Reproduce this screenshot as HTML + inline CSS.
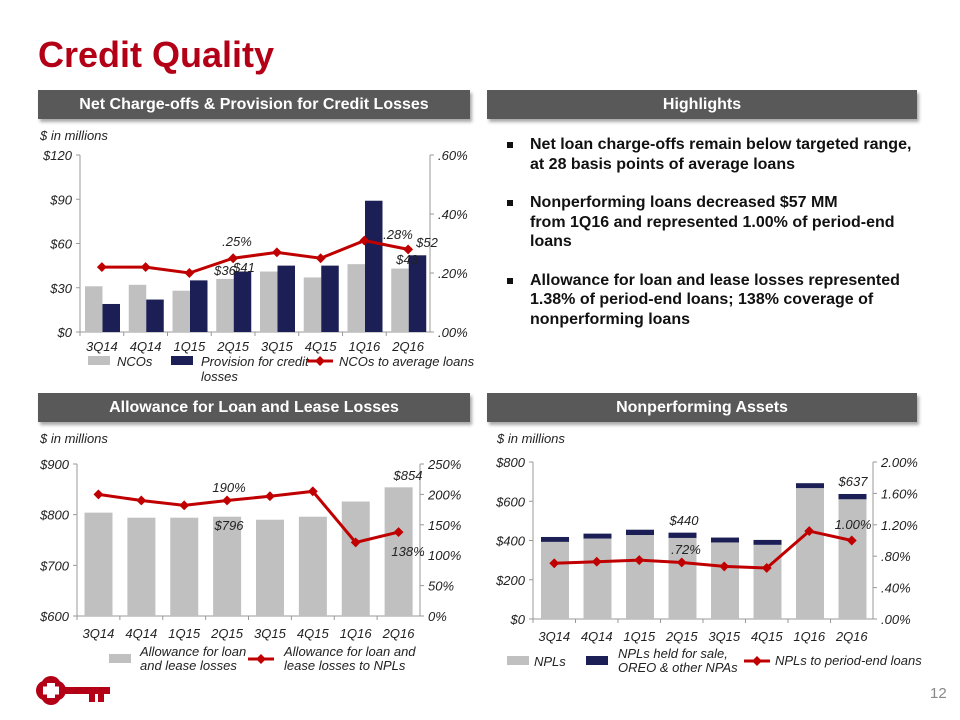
<!DOCTYPE html>
<html><head><meta charset="utf-8"><style>
body{margin:0;background:#fff;font-family:"Liberation Sans",Arial,sans-serif}
#page{position:relative;width:960px;height:720px;overflow:hidden;background:#fff}
.hdr{position:absolute;height:29px;background:#595959;color:#fff;font-weight:bold;font-size:16px;text-align:center;line-height:29px;box-shadow:2px 3px 3px #aaa}
.t{position:absolute}
ul{position:absolute;left:505px;top:135px;width:420px;margin:0;padding:0;list-style:none;font-weight:bold;font-size:16px;color:#111;line-height:19.5px}
li{position:relative;padding-left:25px;margin-bottom:19px}
li:before{content:"";position:absolute;left:2px;top:7px;width:6px;height:6px;background:#111}
svg text{font-family:"Liberation Sans",Arial,sans-serif;font-style:italic;font-size:13px;fill:#222}
</style></head><body>
<div id="page">
<div class="t" style="left:38px;top:34px;font-size:36px;font-weight:bold;color:#b30016">Credit Quality</div>
<div class="hdr" style="left:38px;top:90px;width:432px">Net Charge-offs &amp; Provision for Credit Losses</div>
<div class="hdr" style="left:487px;top:90px;width:430px">Highlights</div>
<div class="hdr" style="left:38px;top:393px;width:432px">Allowance for Loan and Lease Losses</div>
<div class="hdr" style="left:487px;top:393px;width:430px">Nonperforming Assets</div>
<ul>
<li>Net loan charge-offs remain below targeted range, at 28 basis points of average loans</li>
<li>Nonperforming loans decreased $57 MM<br>from 1Q16 and represented 1.00% of period-end loans</li>
<li>Allowance for loan and lease losses represented 1.38% of period-end loans; 138% coverage of nonperforming loans</li>
</ul>
<svg id="svg" width="960" height="720" style="position:absolute;left:0;top:0">
<g fill="#b30016">
<circle cx="51" cy="686" r="10"/><circle cx="51" cy="695" r="10"/><circle cx="46" cy="690.5" r="10"/><circle cx="56" cy="690.5" r="10"/>
<rect x="58" y="687" width="52" height="7"/><rect x="89" y="692" width="6" height="10"/><rect x="98" y="692" width="6" height="10"/>
<rect x="47" y="683" width="8" height="15" fill="#fff"/><rect x="43" y="686.5" width="16" height="8" fill="#fff"/>
</g>
<text x="930" y="698" style="font-style:normal;font-size:15px;fill:#888">12</text>
</svg>
</div>
<script>
const cats=["3Q14","4Q14","1Q15","2Q15","3Q15","4Q15","1Q16","2Q16"];
const ncoVals=[31,32,28,36,41,37,46,43];
const provVals=[19,22,35,41,45,45,89,52];
const ncoRatio=[0.22,0.22,0.20,0.25,0.27,0.25,0.31,0.28];
const alllVals=[804,794,794,796,790,796,826,854];
const alllRatio=[200,190,182,190,197,205,121,138];
const nplVals=[393,410,428,413,390,378,667,610];
const npaOther=[25,25,27,27,25,25,25,27];
const nplRatio=[0.71,0.73,0.75,0.72,0.67,0.65,1.12,1.00];
const t1L=["$0","$30","$60","$90","$120"],t1R=[".00%",".20%",".40%",".60%"];
const t2L=["$600","$700","$800","$900"],t2R=["0%","50%","100%","150%","200%","250%"];
const t3L=["$0","$200","$400","$600","$800"],t3R=[".00%",".40%",".80%","1.20%","1.60%","2.00%"];
const svg=document.getElementById('svg');const NS="http://www.w3.org/2000/svg";
function mk(tag,a,txt){const e=document.createElementNS(NS,tag);for(const k in a)e.setAttribute(k,a[k]);if(txt!=null)e.textContent=txt;svg.appendChild(e);return e;}
function lin(d0,d1,r0,r1){return v=>r0+(v-d0)/(d1-d0)*(r1-r0);}
function axes(c){
 let e=mk('line',{x1:c.x0,y1:c.yt,x2:c.x0,y2:c.yb,stroke:'#999'});
 
 e=mk('line',{x1:c.x1,y1:c.yt,x2:c.x1,y2:c.yb,stroke:'#999'});
 
 e=mk('line',{x1:c.x0,y1:c.yb,x2:c.x1,y2:c.yb,stroke:'#999'});
 
 c.tl.forEach((t,i)=>{const y=c.yb-(c.yb-c.yt)*i/(c.tl.length-1);
  mk('line',{x1:c.x0-4,y1:y,x2:c.x0,y2:y,stroke:'#999'});
  const tx=mk('text',{x:c.x0-8,y:y+5,'text-anchor':'end'},t);
  });
 c.tr.forEach((t,i)=>{const y=c.yb-(c.yb-c.yt)*i/(c.tr.length-1);
  mk('line',{x1:c.x1,y1:y,x2:c.x1+4,y2:y,stroke:'#999'});
  const tx=mk('text',{x:c.x1+8,y:y+5},t);
  });
 const gw=(c.x1-c.x0)/cats.length;
 cats.forEach((k,i)=>{mk('line',{x1:c.x0+gw*i,y1:c.yb,x2:c.x0+gw*i,y2:c.yb+4,stroke:'#999'});
  const tx=mk('text',{x:c.x0+gw*(i+.5),y:c.yb+c.lo,'text-anchor':'middle'},k);
  });
 return gw;
}
function line(c,gw,vals,ys){const pts=vals.map((v,i)=>[c.x0+gw*(i+.5),ys(v)]);
 const p=mk('polyline',{points:pts.map(p=>p.join(',')).join(' '),fill:'none',stroke:'#c00000','stroke-width':3});
 
 pts.forEach(q=>{const d=mk('rect',{x:q[0]-3.5,y:q[1]-3.5,width:7,height:7,fill:'#c00000',transform:`rotate(45 ${q[0]} ${q[1]})`});
  });}
function lab(x,y,t,a){const e=mk('text',{x:x,y:y,'text-anchor':a||'middle'},t);}
// chart 1
let c1={id:'nco',x0:80,x1:430,yt:155,yb:332,tl:t1L,tr:t1R,lo:19};
lab(40,140,"$ in millions","start");
let gw=axes(c1);let y1=lin(0,120,332,155),y1r=lin(0,0.6,332,155);
cats.forEach((k,i)=>{const gx=c1.x0+gw*i;
 let b=mk('rect',{x:gx+5,y:y1(ncoVals[i]),width:17.5,height:332-y1(ncoVals[i]),fill:'#c0c0c0'});
 
 b=mk('rect',{x:gx+22.5,y:y1(provVals[i]),width:17.5,height:332-y1(provVals[i]),fill:'#1c1f55'});
 });
line(c1,gw,ncoRatio,y1r);
lab(237,246,".25%");lab(398,239,".28%");lab(225,275,"$36");lab(244,272,"$41");lab(407,264,"$43");lab(427,247,"$52");
mk('rect',{x:88,y:356,width:22,height:9,fill:'#c0c0c0'});lab(117,366,"NCOs","start");
mk('rect',{x:171,y:356,width:22,height:9,fill:'#1c1f55'});lab(201,366,"Provision for credit","start");lab(201,381,"losses","start");
mk('line',{x1:307,y1:361,x2:333,y2:361,stroke:'#c00000','stroke-width':3});mk('rect',{x:316.5,y:357.5,width:7,height:7,fill:'#c00000',transform:'rotate(45 320 361)'});lab(339,366,"NCOs to average loans","start");
// chart 2
let c2={id:'alll',x0:77,x1:420,yt:464,yb:616,tl:t2L,tr:t2R,lo:22};
lab(40,443,"$ in millions","start");
gw=axes(c2);let y2=lin(600,900,616,464),y2r=lin(0,250,616,464);
cats.forEach((k,i)=>{const gx=c2.x0+gw*i;
 const b=mk('rect',{x:gx+7.5,y:y2(alllVals[i]),width:28,height:616-y2(alllVals[i]),fill:'#c0c0c0'});
 });
line(c2,gw,alllRatio,y2r);
lab(229,492,"190%");lab(229,530,"$796");lab(408,480,"$854");lab(408,556,"138%");
mk('rect',{x:109,y:654,width:22,height:9,fill:'#c0c0c0'});lab(140,656,"Allowance for loan","start");lab(140,670,"and lease losses","start");
mk('line',{x1:248,y1:659,x2:274,y2:659,stroke:'#c00000','stroke-width':3});mk('rect',{x:257.5,y:655.5,width:7,height:7,fill:'#c00000',transform:'rotate(45 261 659)'});lab(284,656,"Allowance for loan and","start");lab(284,670,"lease losses to NPLs","start");
// chart 3
let c3={id:'npa',x0:533,x1:873,yt:462,yb:619,tl:t3L,tr:t3R,lo:22};
lab(497,443,"$ in millions","start");
gw=axes(c3);let y3=lin(0,800,619,462),y3r=lin(0,2,619,462);
cats.forEach((k,i)=>{const gx=c3.x0+gw*i;
 let b=mk('rect',{x:gx+8,y:y3(nplVals[i]),width:28,height:619-y3(nplVals[i]),fill:'#c0c0c0'});
 
 b=mk('rect',{x:gx+8,y:y3(nplVals[i]+npaOther[i]),width:28,height:y3(nplVals[i])-y3(nplVals[i]+npaOther[i]),fill:'#1c1f55'});
 });
line(c3,gw,nplRatio,y3r);
lab(684,525,"$440");lab(686,554,".72%");lab(853,486,"$637");lab(853,529,"1.00%");
mk('rect',{x:507,y:656,width:22,height:9,fill:'#c0c0c0'});lab(534,666,"NPLs","start");
mk('rect',{x:586,y:656,width:22,height:9,fill:'#1c1f55'});lab(618,658,"NPLs held for sale,","start");lab(618,672,"OREO & other NPAs","start");
mk('line',{x1:744,y1:661,x2:770,y2:661,stroke:'#c00000','stroke-width':3});mk('rect',{x:753.5,y:657.5,width:7,height:7,fill:'#c00000',transform:'rotate(45 757 661)'});lab(775,665,"NPLs to period-end loans","start");
</script>
</body></html>
